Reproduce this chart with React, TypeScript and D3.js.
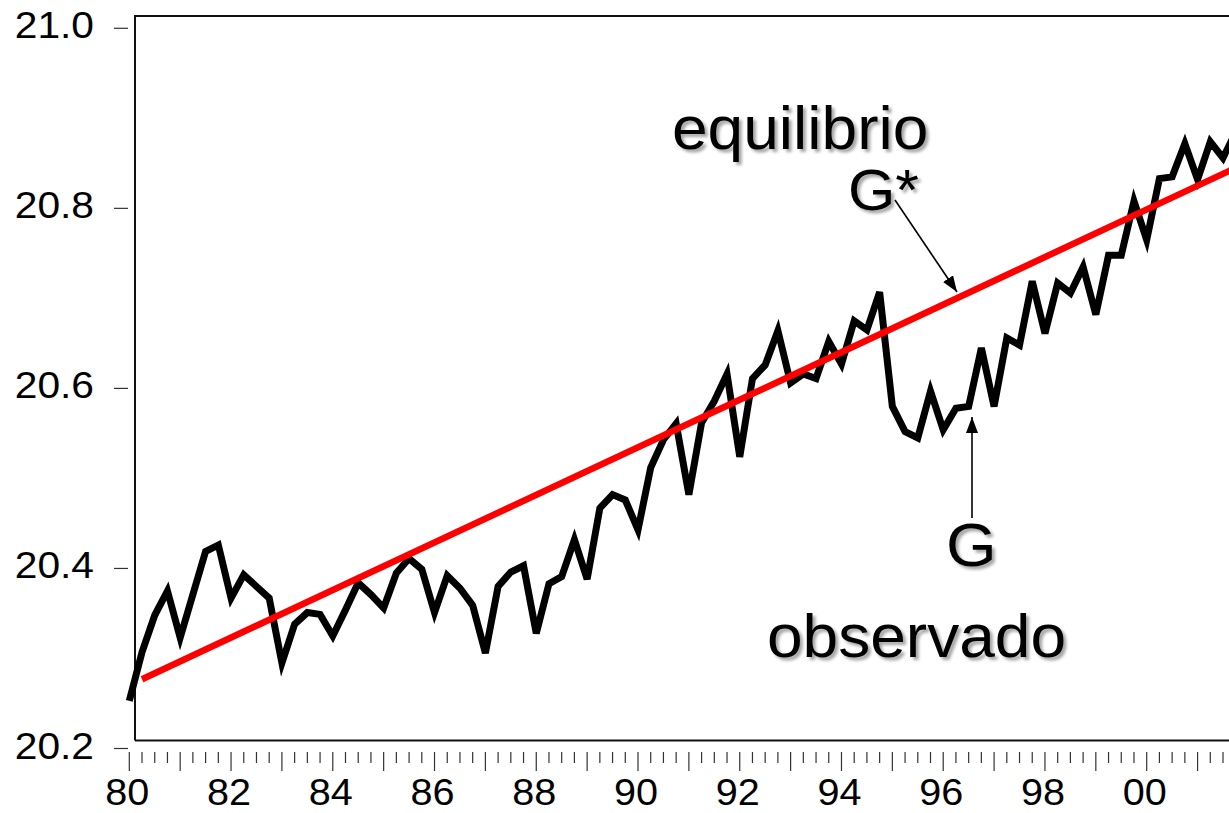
import React from "react";
import * as d3 from "d3";

// Quarterly observed series G, starting 1980Q1
const START_YEAR = 1980;
const observed: number[] = [
  20.253, 20.307, 20.348, 20.375, 20.323, 20.371, 20.419, 20.426,
  20.367, 20.393, 20.380, 20.367, 20.295, 20.338, 20.351, 20.349,
  20.325, 20.354, 20.384, 20.371, 20.356, 20.395, 20.411, 20.399,
  20.351, 20.392, 20.378, 20.359, 20.306, 20.380, 20.396, 20.403,
  20.328, 20.383, 20.391, 20.432, 20.388, 20.467, 20.482, 20.476,
  20.443, 20.512, 20.543, 20.561, 20.482, 20.562, 20.586, 20.616,
  20.524, 20.611, 20.626, 20.664, 20.606, 20.616, 20.611, 20.652,
  20.627, 20.675, 20.665, 20.707, 20.580, 20.552, 20.545, 20.597,
  20.554, 20.578, 20.580, 20.645, 20.580, 20.656, 20.648, 20.719,
  20.661, 20.717, 20.706, 20.735, 20.682, 20.748, 20.748, 20.808,
  20.765, 20.833, 20.835, 20.872, 20.832, 20.874, 20.856, 20.885,
];

// Equilibrium G* (linear trend) endpoints
const equilibriumTimes: number[] = [1980.25, 2001.75];
const equilibriumValues: number[] = [20.277, 20.845];

const yTicks: number[] = [20.2, 20.4, 20.6, 20.8, 21.0];
const xLabelYears: number[] = [1980, 1982, 1984, 1986, 1988, 1990, 1992, 1994, 1996, 1998, 2000];

const W = 1229;
const H = 813;
const FONT = "'Liberation Sans', Arial, Helvetica, sans-serif";

export default function App() {
  const x = d3.scaleLinear().domain([1980, 2000]).range([129.3, 1146.7]);
  const y = d3.scaleLinear().domain([20.2, 21.0]).range([748.5, 28.3]);

  const obsPts: [number, number][] = observed.map((v, i) => [START_YEAR + i / 4, v]);
  const eqPts: [number, number][] = equilibriumTimes.map((t, i) => [t, equilibriumValues[i]]);

  const line = d3
    .line<[number, number]>()
    .x((d) => x(d[0]))
    .y((d) => y(d[1]));

  const frameLeft = 135;
  const frameTop = 16;
  const frameBottom = 740.5;

  const quarterTicks: number[] = d3.range(0, 4 * 22).map((q) => START_YEAR + q / 4);

  return (
    <svg
      width={W}
      height={H}
      style={{ position: "absolute", left: 0, top: 0, background: "#fff" }}
    >
      <defs>
        <filter id="shadow" x="-10%" y="-20%" width="130%" height="160%">
          <feDropShadow dx="3" dy="3" stdDeviation="1.8" floodColor="#000" floodOpacity="0.35" />
        </filter>
        <marker
          id="arrow"
          viewBox="0 0 16 12"
          refX="16"
          refY="6"
          markerUnits="userSpaceOnUse"
          markerWidth="16"
          markerHeight="12"
          orient="auto"
        >
          <path d="M0,0 L16,6 L0,12 Z" fill="#000" />
        </marker>
      </defs>

      {/* frame */}
      <path
        d={`M${frameLeft},${frameBottom} V${frameTop} H${W + 10} M${frameLeft},${frameBottom} H${W + 10}`}
        fill="none"
        stroke="#111"
        strokeWidth={2}
      />

      {/* y axis */}
      {yTicks.map((v) => (
        <g key={v}>
          <line x1={114} x2={128} y1={y(v)} y2={y(v)} stroke="#333" strokeWidth={1.2} />
          <text
            transform={`translate(94,${y(v) + 10}) scale(1.1,1)`}
            textAnchor="end"
            fontFamily={FONT}
            fontSize={37}
            fill="#000"
          >
            {v.toFixed(1)}
          </text>
        </g>
      ))}

      {/* x axis ticks */}
      {quarterTicks.map((t, i) => (
        <line
          key={i}
          x1={x(t)}
          x2={x(t)}
          y1={752}
          y2={i % 4 === 0 ? 771 : 763}
          stroke="#333"
          strokeWidth={1.2}
        />
      ))}
      {xLabelYears.map((yr) => (
        <text
          key={yr}
          transform={`translate(${x(yr) - 2},805) scale(1.07,1)`}
          textAnchor="middle"
          fontFamily={FONT}
          fontSize={37}
          fill="#000"
        >
          {String(yr % 100).padStart(2, "0")}
        </text>
      ))}

      {/* series */}
      <path d={line(obsPts) || ""} fill="none" stroke="#000" strokeWidth={7} strokeLinejoin="miter" />
      <path d={line(eqPts) || ""} fill="none" stroke="#ff0000" strokeWidth={6.5} />

      {/* annotations */}
      <g filter="url(#shadow)" fontFamily={FONT} fill="#000">
        <text transform="translate(672,148.5) scale(1.05,1)" fontSize={61}>
          equilibrio
        </text>
        <text transform="translate(848,209.5) scale(1.05,1)" fontSize={58}>
          G*
        </text>
        <text transform="translate(946,566) scale(1.05,1)" fontSize={62}>
          G
        </text>
        <text transform="translate(767,657) scale(1.05,1)" fontSize={61}>
          observado
        </text>
      </g>

      <line x1={895} y1={200} x2={957} y2={292} stroke="#000" strokeWidth={1.6} markerEnd="url(#arrow)" />
      <line x1={972} y1={518} x2={972} y2={417} stroke="#000" strokeWidth={1.6} markerEnd="url(#arrow)" />
    </svg>
  );
}
